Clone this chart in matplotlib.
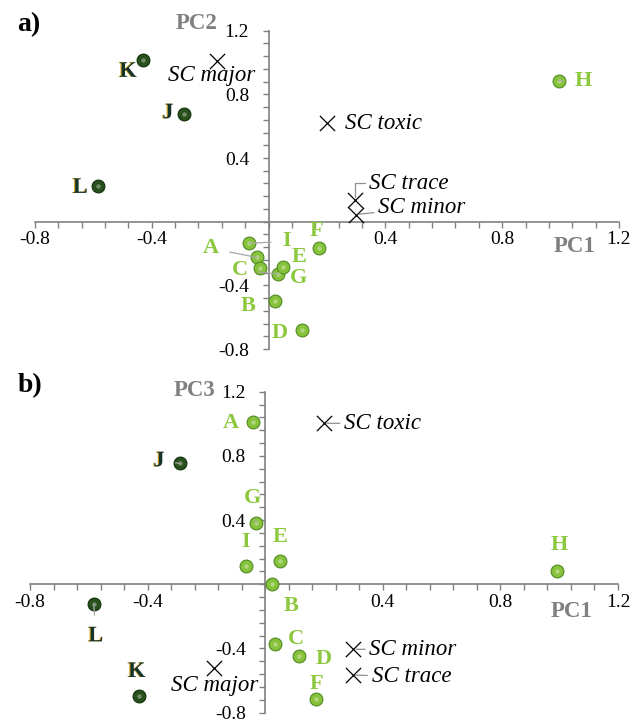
import matplotlib
matplotlib.use("Agg")
import matplotlib.pyplot as plt
import matplotlib.patheffects as pe
from matplotlib.ticker import MultipleLocator, FuncFormatter

plt.rcParams["font.family"] = ["Liberation Serif", "DejaVu Serif"]

# samples (A-I light green, J-L dark green)
samples = ["A", "B", "C", "D", "E", "F", "G", "H", "I", "J", "K", "L"]
pc1 = [-0.041, 0.022, 0.034, 0.115, 0.051, 0.173, -0.031, 0.994, -0.066, -0.290, -0.430, -0.583]
pc2 = [-0.224, -0.497, -0.329, -0.681, -0.283, -0.168, -0.293, 0.887, -0.136, 0.675, 1.017, 0.225]
pc3 = [1.009, 0.000, -0.372, -0.447, 0.147, -0.717, 0.380, 0.083, 0.114, 0.754, -0.696, -0.125]
dark_samples = ["J", "K", "L"]

# loadings
sc_names = ["SC major", "SC toxic", "SC trace", "SC minor"]
sc_pc1 = [-0.175, 0.200, 0.297, 0.300]
sc_pc2 = [1.010, 0.619, 0.136, 0.045]
sc_pc3 = [-0.523, 1.003, -0.565, -0.405]

# label offsets in pixels (dx, dy, leader line?)
lab_a = {"A": (-46, 9, True), "B": (-27, -5, False), "C": (-39, 4, True), "D": (-22, -3, False),
         "E": (16, 10, False), "F": (-3, 17, False), "G": (39, -10, False), "H": (24, 0, True),
         "I": (37, 2, True), "J": (-16, 1, False), "K": (-15, -12, False), "L": (-18, -2, False)}
lab_b = {"A": (-22, -1, False), "B": (19, -22, False), "C": (21, 5, False), "D": (25, -3, False),
         "E": (0, 24, False), "F": (0, 15, False), "G": (-4, 25, True), "H": (2, 26, False),
         "I": (0, 24, False), "J": (-21, 2, True), "K": (-2, 24, False), "L": (2, -32, True)}
sc_lab_a = {"SC major": (-6, -15, "center", False), "SC toxic": (18, 0, "left", False),
            "SC trace": (14, 17, "left", True), "SC minor": (22, 7, "left", True)}
sc_lab_b = {"SC major": (1, -17, "center", False), "SC toxic": (20, 0, "left", True),
            "SC trace": (19, -2, "left", True), "SC minor": (16, 0, "left", True)}

LIGHT = "#86c23c"
LIGHT_EDGE = "#4f8a22"
DARK = "#28501c"
DARK_EDGE = "#12300c"
LABEL_LIGHT = "#8cc83e"
LABEL_DARK = "#16352a"
GRAY = "#808080"


def style_axes(ax):
    ax.set_xlim(-0.8, 1.2)
    ax.set_ylim(-0.8, 1.2)
    ax.patch.set_visible(False)
    for s in ["top", "right"]:
        ax.spines[s].set_visible(False)
    for s in ["left", "bottom"]:
        ax.spines[s].set_position(("data", 0))
        ax.spines[s].set_color(GRAY)
        ax.spines[s].set_linewidth(1.2)
    fmt = FuncFormatter(lambda v, p: "" if abs(v) < 1e-9 else f"{v:.1f}")
    for axis in [ax.xaxis, ax.yaxis]:
        axis.set_major_locator(MultipleLocator(0.4))
        axis.set_minor_locator(MultipleLocator(0.08))
        axis.set_major_formatter(fmt)
    ax.tick_params(which="both", direction="out", length=4, width=1.0, color=GRAY,
                   labelsize=14)
    ax.tick_params(axis="x", pad=3)
    ax.tick_params(axis="y", pad=10)


def draw_panel(ax, ys, sc_ys, labs, sc_labs, ylab, ylab_xy, xlab_xy):
    style_axes(ax)
    for name, x, y in zip(samples, pc1, ys):
        dark = name in dark_samples
        ax.scatter(x, y, s=85, color=DARK if dark else LIGHT,
                   edgecolor=DARK_EDGE if dark else LIGHT_EDGE, linewidth=0.8, zorder=4)
        ax.scatter(x, y, s=10, color="white", alpha=0.35, zorder=5, linewidth=0)
        dx, dy, leader = labs[name]
        kw = dict(xy=(x, y), xytext=(dx, dy), textcoords="offset pixels",
                  ha="center", va="center", fontsize=16, fontweight="bold",
                  color=LABEL_DARK if dark else LABEL_LIGHT, zorder=6)
        if leader:
            kw["arrowprops"] = dict(arrowstyle="-", color="#a8a8a8", lw=0.9,
                                    shrinkA=6, shrinkB=0)
        t = ax.annotate(name, **kw)
        if dark:
            t.set_path_effects([pe.withSimplePatchShadow(offset=(-0.8, 0),
                                                         shadow_rgbFace="#d6a21e", alpha=1)])
    for name, x, y in zip(sc_names, sc_pc1, sc_ys):
        ax.scatter(x, y, marker="x", s=120, color="black", linewidth=0.9, zorder=4)
        dx, dy, ha, leader = sc_labs[name]
        kw = dict(xy=(x, y), xytext=(dx, dy), textcoords="offset pixels",
                  ha=ha, va="center", fontsize=16.5, fontstyle="italic", color="black",
                  zorder=6)
        if leader:
            kw["arrowprops"] = dict(arrowstyle="-", color="#909090", lw=0.9,
                                    shrinkA=1, shrinkB=2,
                                    connectionstyle="angle,angleA=0,angleB=90,rad=0"
                                    if dy > 10 else "arc3")
        ax.annotate(name, **kw)
    ax.text(xlab_xy[0], xlab_xy[1], "PC1", fontsize=16.5, fontweight="bold", color=GRAY,
            ha="center", va="center")
    ax.text(ylab_xy[0], ylab_xy[1], ylab, fontsize=16.5, fontweight="bold", color=GRAY,
            ha="center", va="center")


fig = plt.figure(figsize=(6.44, 7.22), dpi=100)
ax1 = fig.add_axes([0.0543, 0.5166, 0.9068, 0.4409])
ax2 = fig.add_axes([0.0466, 0.0129, 0.913, 0.4446])

draw_panel(ax1, pc2, sc_pc2, lab_a, sc_lab_a, "PC2", (-0.245, 1.248), (1.047, -0.153))
draw_panel(ax2, pc3, sc_pc3, lab_b, sc_lab_b, "PC3", (-0.24, 1.21), (1.041, -0.171))

fig.text(0.044, 0.966, "a)", fontsize=20, fontweight="bold", ha="center", va="center")
fig.text(0.047, 0.466, "b)", fontsize=20, fontweight="bold", ha="center", va="center")

fig.savefig("out.png", dpi=100)
